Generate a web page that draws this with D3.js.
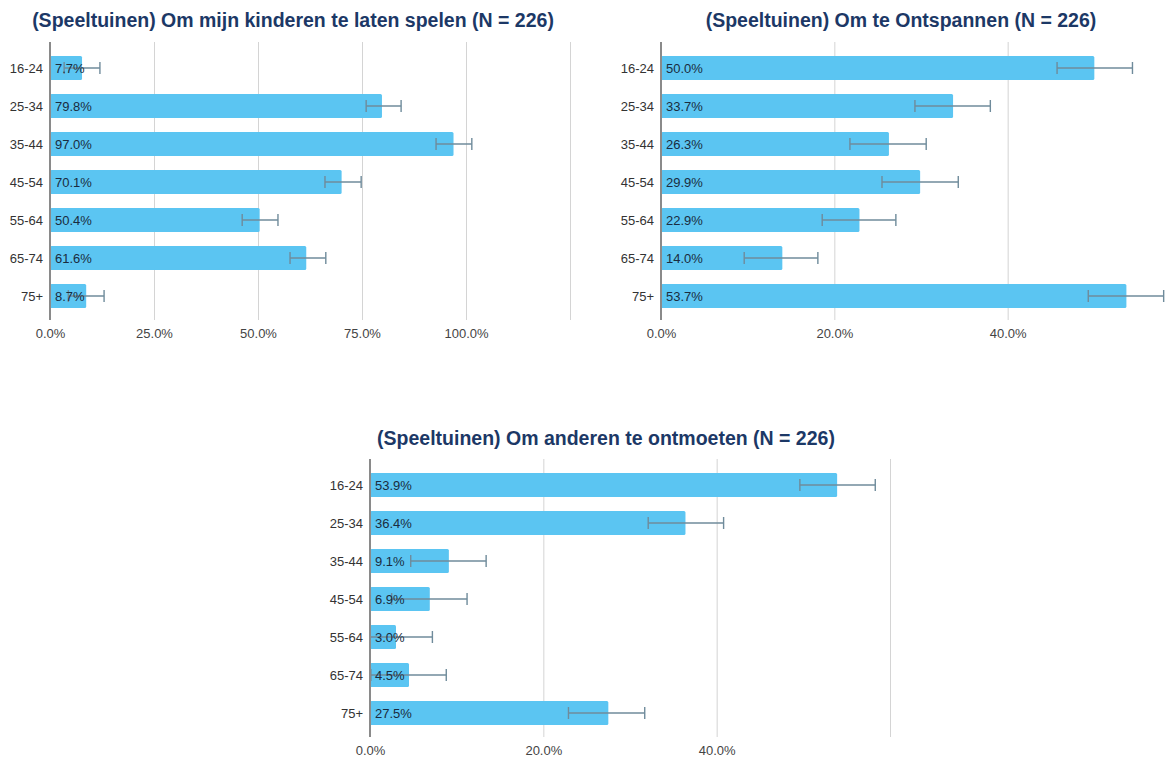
<!DOCTYPE html>
<html>
<head>
<meta charset="utf-8">
<script src="https://cdn.jsdelivr.net/npm/d3@7"></script>
<style>
  body { margin: 0; background: #fff; }
  svg { font-family: 'Liberation Sans', Arial, sans-serif; display: block; }
  .chart-title { font-weight: 700; font-size: 19.5px; fill: #1c3866; text-anchor: middle; }
  .tick text { font-size: 13px; fill: #444; }
  .age-label { font-size: 13px; fill: #333; text-anchor: end; }
  .bar-label { font-size: 13px; fill: #1a2c40; }
</style>
</head>
<body>
<svg id="chart" width="1171" height="761"></svg>
<script>
const ageGroups = ['16-24', '25-34', '35-44', '45-54', '55-64', '65-74', '75+'];

const spelen = [7.7, 79.8, 97.0, 70.1, 50.4, 61.6, 8.7];
const spelenLow = [3.4, 76.0, 92.8, 66.1, 46.2, 57.7, 4.4];
const spelenHigh = [12.0, 84.4, 101.4, 74.8, 54.8, 66.3, 13.0];

const ontspannen = [50.0, 33.7, 26.3, 29.9, 22.9, 14.0, 53.7];
const ontspannenLow = [45.7, 29.3, 21.8, 25.5, 18.6, 9.6, 49.3];
const ontspannenHigh = [54.4, 38.0, 30.6, 34.3, 27.1, 18.1, 58.0];

const ontmoeten = [53.9, 36.4, 9.1, 6.9, 3.0, 4.5, 27.5];
const ontmoetenLow = [49.6, 32.1, 4.7, 2.5, 0, 0.1, 22.9];
const ontmoetenHigh = [58.3, 40.8, 13.4, 11.2, 7.2, 8.8, 31.7];

const spelenTicks = [0, 25, 50, 75, 100, 125];
const otherTicks = [0, 20, 40, 60];

const svg = d3.select('#chart');

const drawPanel = ({ title, titleX, titleY, x0, top, values, low, high, ticks }) => {
  const plotW = 520;
  const plotTop = top;
  const plotBottom = top + 278;
  const x = d3.scaleLinear().domain([0, ticks[ticks.length - 1]]).range([x0, x0 + plotW]);
  const y = d3.scaleBand().domain(ageGroups).range([top + 7, top + 273]).paddingInner(0.37).paddingOuter(0.185);

  const g = svg.append('g');

  g.append('text')
    .attr('class', 'chart-title')
    .attr('x', titleX)
    .attr('y', titleY)
    .text(title);

  // gridlines + tick labels
  const axis = g.append('g')
    .attr('transform', `translate(0, ${plotBottom})`)
    .call(d3.axisBottom(x)
      .tickValues(ticks)
      .tickSize(-(plotBottom - plotTop))
      .tickPadding(9)
      .tickFormat((d) => (d === ticks[ticks.length - 1] ? '' : `${d.toFixed(1)}%`)));
  axis.select('.domain').remove();
  axis.selectAll('.tick line').style('stroke', '#d4d4d4').style('stroke-width', 1);

  const rows = g.selectAll('g.row')
    .data(ageGroups)
    .enter()
    .append('g')
    .attr('class', 'row');

  rows.append('rect')
    .attr('x', x(0))
    .attr('y', (d) => y(d))
    .attr('width', (d, i) => x(values[i]) - x(0))
    .attr('height', y.bandwidth())
    .attr('rx', 1.5)
    .style('fill', '#5bc5f2');

  // error bars
  const cy = (d) => y(d) + y.bandwidth() / 2;
  rows.append('line')
    .attr('x1', (d, i) => x(low[i]))
    .attr('x2', (d, i) => x(high[i]))
    .attr('y1', cy)
    .attr('y2', cy);
  rows.append('line')
    .attr('x1', (d, i) => x(low[i]))
    .attr('x2', (d, i) => x(low[i]))
    .attr('y1', (d) => cy(d) - 6)
    .attr('y2', (d) => cy(d) + 6);
  rows.append('line')
    .attr('x1', (d, i) => x(high[i]))
    .attr('x2', (d, i) => x(high[i]))
    .attr('y1', (d) => cy(d) - 6)
    .attr('y2', (d) => cy(d) + 6);
  rows.selectAll('line')
    .style('stroke', '#6f8b9b')
    .style('stroke-width', 1.4);

  rows.append('text')
    .attr('class', 'bar-label')
    .attr('x', x(0) + 5)
    .attr('y', cy)
    .attr('dy', '0.36em')
    .text((d, i) => `${values[i].toFixed(1)}%`);

  rows.append('text')
    .attr('class', 'age-label')
    .attr('x', x(0) - 7)
    .attr('y', cy)
    .attr('dy', '0.36em')
    .text((d) => d);

  // baseline axis
  g.append('line')
    .attr('x1', x(0))
    .attr('x2', x(0))
    .attr('y1', plotTop)
    .attr('y2', plotBottom)
    .style('stroke', '#8a8a8a')
    .style('stroke-width', 2);
};

drawPanel({
  title: '(Speeltuinen) Om mijn kinderen te laten spelen (N = 226)',
  titleX: 293, titleY: 27, x0: 50, top: 42,
  values: spelen, low: spelenLow, high: spelenHigh, ticks: spelenTicks,
});

drawPanel({
  title: '(Speeltuinen) Om te Ontspannen (N = 226)',
  titleX: 901, titleY: 27, x0: 661, top: 42,
  values: ontspannen, low: ontspannenLow, high: ontspannenHigh, ticks: otherTicks,
});

drawPanel({
  title: '(Speeltuinen) Om anderen te ontmoeten (N = 226)',
  titleX: 606, titleY: 445, x0: 370, top: 459,
  values: ontmoeten, low: ontmoetenLow, high: ontmoetenHigh, ticks: otherTicks,
});
</script>
</body>
</html>
